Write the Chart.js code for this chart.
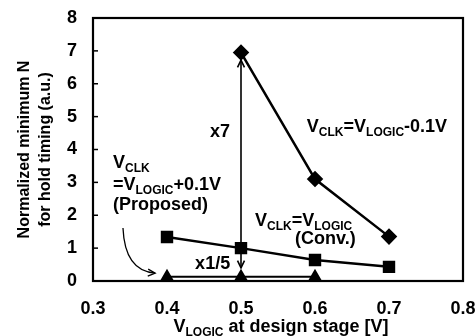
<!DOCTYPE html>
<html>
<head>
<meta charset="utf-8">
<script src="https://cdn.jsdelivr.net/npm/chart.js@4.4.1/dist/chart.umd.min.js"></script>
<style>
  html, body { margin: 0; padding: 0; background: #fff; }
  #wrap { width: 475px; height: 336px; }
</style>
</head>
<body>
<div id="wrap"><canvas id="chart"></canvas></div>
<script>
const xTicks = [0.3, 0.4, 0.5, 0.6, 0.7, 0.8];
const yTicks = [0, 1, 2, 3, 4, 5, 6, 7, 8];

// V_CLK = V_LOGIC - 0.1V
const minusX = [0.5, 0.6, 0.7];
const minusY = [6.95, 3.1, 1.35];
// V_CLK = V_LOGIC (Conv.)
const convX = [0.4, 0.5, 0.6, 0.7];
const convY = [1.34, 1.0, 0.64, 0.43];
// V_CLK = V_LOGIC + 0.1V (Proposed)
const propX = [0.4, 0.5, 0.6];
const propY = [0.13, 0.13, 0.13];

const FONT = "'Liberation Sans', Arial, sans-serif";
const pts = (xs, ys) => xs.map((x, i) => ({ x: x, y: ys[i] }));

// rich text: runs of [text, isSub]
function drawRich(ctx, x, y, runs) {
  ctx.save();
  ctx.fillStyle = "#000";
  ctx.textBaseline = "alphabetic";
  ctx.textAlign = "left";
  let cx = x;
  const base = y + 6.5;
  runs.forEach(([t, sub]) => {
    ctx.font = sub ? `bold 12px ${FONT}` : `bold 18px ${FONT}`;
    ctx.fillText(t, cx, sub ? base + 4 : base);
    cx += ctx.measureText(t).width;
  });
  ctx.restore();
  return cx - x;
}

function richWidth(ctx, runs) {
  ctx.save();
  let w = 0;
  runs.forEach(([t, sub]) => {
    ctx.font = sub ? `bold 12px ${FONT}` : `bold 18px ${FONT}`;
    w += ctx.measureText(t).width;
  });
  ctx.restore();
  return w;
}

function chevron(ctx, x, y, angle) {
  const len = 8, spread = 0.45;
  ctx.beginPath();
  ctx.moveTo(x - len * Math.cos(angle - spread), y - len * Math.sin(angle - spread));
  ctx.lineTo(x, y);
  ctx.lineTo(x - len * Math.cos(angle + spread), y - len * Math.sin(angle + spread));
  ctx.stroke();
}

const labels = [
  { x: 0.589, y: 4.74, runs: [["V"], ["CLK", 1], ["=V"], ["LOGIC", 1], ["-0.1V"]] },
  { x: 0.458, y: 4.59, runs: [["x7"]] },
  { x: 0.327, y: 3.62, runs: [["V"], ["CLK", 1]] },
  { x: 0.327, y: 2.98, runs: [["=V"], ["LOGIC", 1], ["+0.1V"]] },
  { x: 0.327, y: 2.37, runs: [["(Proposed)"]] },
  { x: 0.519, y: 1.88, runs: [["V"], ["CLK", 1], ["=V"], ["LOGIC", 1]] },
  { x: 0.573, y: 1.31, runs: [["(Conv.)"]] },
  { x: 0.438, y: 0.55, runs: [["x1/5"]] }
];

const annotations = {
  id: "annotations",
  beforeDatasetsDraw(chart) {
    const { ctx, scales: { x, y } } = chart;
    ctx.save();
    ctx.strokeStyle = "#000";
    ctx.lineWidth = 1.6;
    // x7 / x1/5 arrows
    const ax = x.getPixelForValue(0.5);
    const top = y.getPixelForValue(6.72);
    const mid = y.getPixelForValue(1.0);
    const bot = y.getPixelForValue(0.4);
    ctx.beginPath();
    ctx.moveTo(ax, mid);
    ctx.lineTo(ax, top);
    ctx.moveTo(ax, mid);
    ctx.lineTo(ax, bot);
    ctx.stroke();
    chevron(ctx, ax, top, -Math.PI / 2);
    chevron(ctx, ax, bot, Math.PI / 2);
    // curved arrow for proposed label
    const sx = x.getPixelForValue(0.3405), sy = y.getPixelForValue(1.61);
    const qx = x.getPixelForValue(0.343), qy = y.getPixelForValue(0.3);
    const ex = x.getPixelForValue(0.384), ey = y.getPixelForValue(0.24);
    ctx.lineWidth = 1.3;
    ctx.beginPath();
    ctx.moveTo(sx, sy);
    ctx.quadraticCurveTo(qx, qy, ex, ey);
    ctx.stroke();
    chevron(ctx, ex, ey, Math.atan2(ey - qy, ex - qx));
    ctx.restore();
  },
  afterDatasetsDraw(chart) {
    const { ctx, chartArea: a, scales: { x, y } } = chart;
    ctx.save();
    // frame
    ctx.strokeStyle = "#000";
    ctx.lineWidth = 2.2;
    ctx.strokeRect(a.left, a.top, a.right - a.left, a.bottom - a.top);
    // inner ticks on y axis
    ctx.lineWidth = 1.5;
    y.ticks.forEach(t => {
      const py = y.getPixelForValue(t.value);
      ctx.beginPath();
      ctx.moveTo(a.left, py);
      ctx.lineTo(a.left + 5, py);
      ctx.stroke();
    });
    ctx.restore();
    labels.forEach(l => drawRich(ctx, x.getPixelForValue(l.x), y.getPixelForValue(l.y), l.runs));
    // x axis title
    const xt = [["V"], ["LOGIC", 1], [" at design stage [V]"]];
    const w = richWidth(ctx, xt);
    drawRich(ctx, (a.left + a.right) / 2 + 3 - w / 2, 325, xt);
  }
};

const ctx = document.getElementById("chart").getContext("2d");
new Chart(ctx, {
  type: "line",
  data: {
    datasets: [
      {
        label: "V_CLK=V_LOGIC-0.1V",
        data: pts(minusX, minusY),
        borderColor: "#000",
        backgroundColor: "#000",
        borderWidth: 2.5,
        pointStyle: "rectRot",
        pointRadius: 6.5
      },
      {
        label: "V_CLK=V_LOGIC (Conv.)",
        data: pts(convX, convY),
        borderColor: "#000",
        backgroundColor: "#000",
        borderWidth: 2.5,
        pointStyle: "rect",
        pointRadius: 7
      },
      {
        label: "V_CLK=V_LOGIC+0.1V (Proposed)",
        data: pts(propX, propY),
        borderColor: "#000",
        backgroundColor: "#000",
        borderWidth: 2,
        pointStyle: "triangle",
        pointRadius: 6
      }
    ]
  },
  options: {
    responsive: true,
    maintainAspectRatio: false,
    animation: false,
    layout: { padding: { left: 0, top: 18, right: 12, bottom: 0 } },
    plugins: { legend: { display: false }, tooltip: { enabled: false } },
    scales: {
      x: {
        type: "linear",
        min: 0.3,
        max: 0.8,
        afterBuildTicks: s => { s.ticks = xTicks.map(v => ({ value: v })); },
        afterFit: s => { s.height = 55; s.paddingLeft = 0; s.paddingRight = 0; },
        grid: { display: false, drawTicks: false },
        border: { color: "#000", width: 2 },
        ticks: {
          padding: 17,
          color: "#000",
          font: { family: FONT, size: 18, weight: "bold" },
          callback: v => v.toFixed(1)
        }
      },
      y: {
        min: 0,
        max: 8,
        afterBuildTicks: s => { s.ticks = yTicks.map(v => ({ value: v })); },
        afterFit: s => { s.width = 93; s.paddingTop = 0; s.paddingBottom = 0; },
        grid: { display: false, drawTicks: false },
        border: { color: "#000", width: 2 },
        ticks: {
          padding: 16,
          color: "#000",
          font: { family: FONT, size: 18, weight: "bold" }
        },
        title: {
          display: true,
          text: ["Normalized minimum N", "for hold timing (a.u.)"],
          color: "#000",
          font: { family: FONT, size: 16, weight: "bold", lineHeight: 1.3 },
          padding: { top: 14, bottom: 0 }
        }
      }
    }
  },
  plugins: [annotations]
});
</script>
</body>
</html>
